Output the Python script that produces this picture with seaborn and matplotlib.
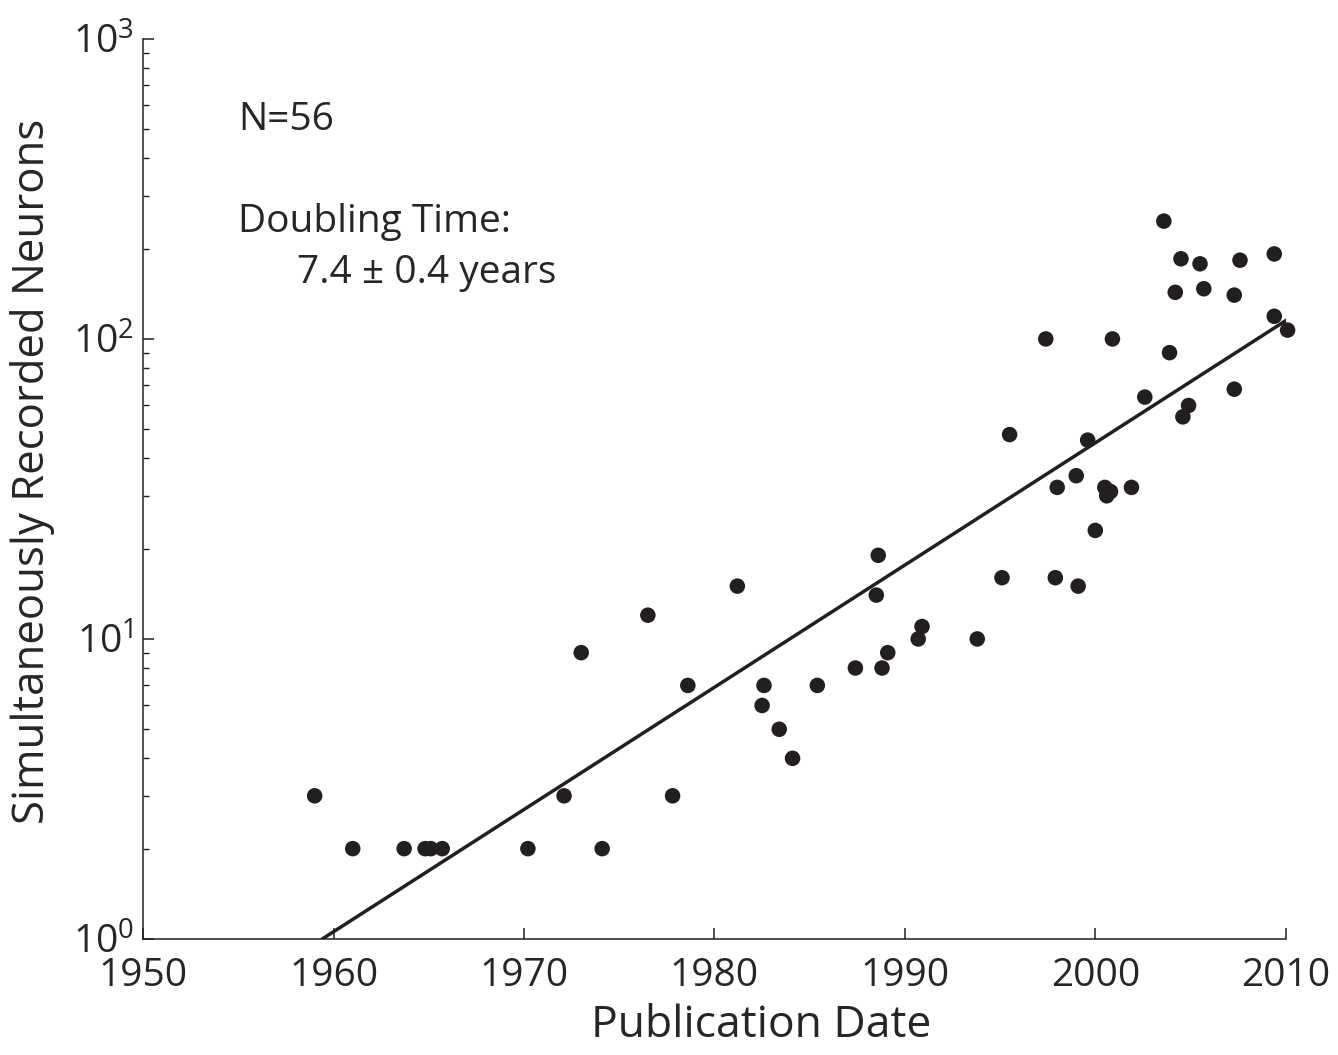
import numpy as np
import pandas as pd
import matplotlib
matplotlib.use("Agg")
import matplotlib.pyplot as plt
import seaborn as sns

# publication year / number of simultaneously recorded neurons
years = [1959.0, 1961.0, 1963.7, 1964.8, 1965.1, 1965.7, 1970.2, 1972.1, 1973.0, 1974.1,
         1976.5, 1977.8, 1978.6, 1981.2, 1982.5, 1982.6, 1983.4, 1984.1, 1985.4, 1987.4,
         1988.5, 1988.6, 1988.8, 1989.1, 1990.7, 1990.9, 1993.8, 1995.1, 1995.5, 1997.4,
         1997.9, 1998.0, 1999.0, 1999.1, 1999.6, 2000.0, 2000.5, 2000.6, 2000.8, 2000.9,
         2001.9, 2002.6, 2003.6, 2003.9, 2004.2, 2004.5, 2004.6, 2004.9, 2005.5, 2005.7,
         2007.3, 2007.3, 2007.6, 2009.4, 2009.4, 2010.1]
neurons = [3, 2, 2, 2, 2, 2, 2, 3, 9, 2,
           12, 3, 7, 15, 6, 7, 5, 4, 7, 8,
           14, 19, 8, 9, 10, 11, 10, 16, 48, 100,
           16, 32, 35, 15, 46, 23, 32, 30, 31, 100,
           32, 64, 247, 90, 143, 185, 55, 60, 178, 147,
           140, 68, 183, 192, 119, 107]

# exponential fit (doubling time 7.4 years)
fit_years = [1959.4, 2010.05]
fit_neurons = [1.0, 115.6]

df = pd.DataFrame({"year": years, "n": neurons})
fit = pd.DataFrame({"year": fit_years, "n": fit_neurons})

sns.set_style("white")
plt.rcParams["font.family"] = ["Open Sans", "DejaVu Sans"]
plt.rcParams["mathtext.fontset"] = "custom"
plt.rcParams["mathtext.rm"] = "Open Sans"
plt.rcParams["mathtext.it"] = "Open Sans"

ink = "#231f20"
fig = plt.figure(figsize=(13.38, 10.55), dpi=100)
ax = fig.add_axes([0.1071, 0.11, 0.8538, 0.8531])

sns.lineplot(data=fit, x="year", y="n", color=ink, lw=2.5, ax=ax)
sns.scatterplot(data=df, x="year", y="n", color=ink, s=125, edgecolor="none",
                ax=ax, zorder=3, clip_on=False)

ax.set_yscale("log")
ax.set_xlim(1950, 2010)
ax.set_ylim(1, 1000)
ax.set_xticks([1950, 1960, 1970, 1980, 1990, 2000, 2010])

for s in ["top", "right"]:
    ax.spines[s].set_visible(False)
for s in ["left", "bottom"]:
    ax.spines[s].set_color(ink)
    ax.spines[s].set_linewidth(1.1)

ax.tick_params(axis="both", which="both", bottom=True, left=True)
ax.tick_params(axis="x", which="major", direction="in", length=8, width=1.1,
               color=ink, labelsize=28, pad=13)
ax.tick_params(axis="y", which="major", direction="in", length=8, width=1.1,
               color=ink, labelsize=28, pad=7)
ax.tick_params(axis="y", which="minor", direction="in", length=4.5, width=1.0, color=ink)
ax.tick_params(axis="x", which="minor", length=0)

ax.set_xlabel("Publication Date", fontsize=32)
ax.xaxis.set_label_coords(0.541, -0.072)
ax.set_ylabel("Simultaneously Recorded Neurons", fontsize=31.5)
ax.yaxis.set_label_coords(-0.077, 0.519)

ax.text(0.083, 0.899, "N=56", transform=ax.transAxes, fontsize=28, va="baseline")
ax.text(0.083, 0.786, "Doubling Time:", transform=ax.transAxes, fontsize=28, va="baseline")
ax.text(0.1345, 0.729, "7.4 \u00b1 0.4 years", transform=ax.transAxes, fontsize=28, va="baseline")

fig.savefig("out.png", dpi=100)
